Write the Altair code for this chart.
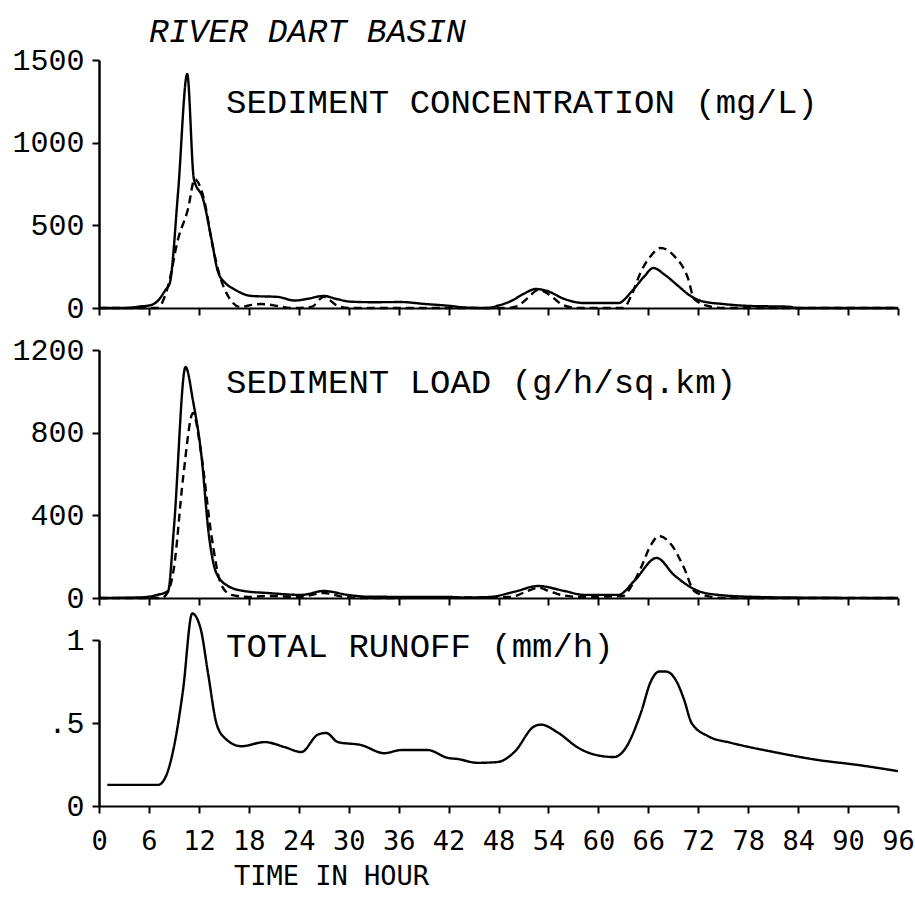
import altair as alt
import pandas as pd

# ---------------- data ----------------
# Sediment concentration (mg/L)
conc_solid_t = [0, 3, 4, 5, 6, 7, 8, 8.5, 9.5, 10.6, 11.4, 12.5, 13.5, 14.3, 15.2, 16.2, 18.3, 21.5, 23.5, 25, 27, 28.5, 30.3, 33, 36.3, 39, 42.3, 44, 46.7, 48, 49.5, 51, 52.5, 54, 55.9, 58.3, 62.4, 64, 65.5, 66.6, 68, 69.6, 71, 72.4, 75, 78.4, 82.8, 84, 96]
conc_solid_v = [0, 0, 3, 10, 15, 40, 110, 150, 700, 1415, 780, 660, 420, 218, 150, 115, 73, 67, 45, 55, 73, 55, 38, 35, 36, 25, 12, 3, 0, 15, 42, 85, 115, 100, 55, 30, 30, 100, 190, 242, 200, 133, 75, 42, 24, 12, 8, 0, 0]
conc_dash_t = [0, 7, 8.3, 9.5, 10.7, 11.5, 12.5, 13.8, 14.6, 15.5, 17, 18.5, 19.5, 21.5, 23, 25.5, 27, 28.7, 30, 49, 50.3, 51.5, 52.8, 54.3, 55.5, 56.5, 57.5, 63, 64, 65.1, 66.3, 67.5, 69.1, 70.8, 71.5, 73.2, 75, 96]
conc_dash_v = [0, 0, 133, 417, 600, 780, 680, 340, 180, 73, 6, 20, 24, 12, 0, 6, 67, 12, 0, 0, 12, 60, 110, 73, 25, 6, 0, 0, 80, 218, 315, 363, 315, 175, 55, 12, 0, 0]

# Sediment load (g/h/sq.km)
load_solid_t = [0, 5, 7, 8.3, 9, 10.4, 11.3, 12.3, 13.2, 14.1, 15.5, 17.4, 20.3, 24.3, 27, 29.9, 32.5, 42, 44, 47, 49.9, 52.8, 55.9, 58.3, 62.4, 64.3, 67, 69.1, 72, 74.4, 79, 84, 96]
load_solid_v = [0, 3, 15, 34, 339, 1118, 953, 692, 305, 121, 58, 34, 24, 15, 34, 15, 6, 5, 2, 5, 30, 58, 34, 15, 15, 82, 194, 111, 34, 15, 5, 2, 0]
load_dash_t = [0, 7.5, 8.3, 9, 10.1, 11.3, 12.3, 13.5, 14.7, 15.9, 18, 20, 24, 27, 29.5, 32, 49.5, 51, 52.8, 54, 55.5, 58, 63, 64, 65.1, 66.3, 67.3, 68.8, 70.3, 71.5, 73, 75, 96]
load_dash_v = [0, 0, 30, 145, 580, 895, 692, 305, 63, 15, 5, 10, 5, 24, 5, 0, 5, 25, 50, 35, 15, 5, 10, 60, 145, 256, 300, 256, 145, 34, 10, 0, 0]

# Total runoff (mm/h)
runoff_t = [1, 7.1, 8, 9, 10.1, 11.2, 12.2, 13.1, 14.1, 15.1, 17.1, 19.9, 22.3, 24.3, 26.3, 27.3, 28.7, 31.5, 34.3, 36.3, 39.5, 41.9, 43.1, 45.5, 47.9, 49.9, 52.3, 53.1, 55.2, 57.6, 59.5, 61.9, 63.1, 65.1, 66.3, 67.3, 68.1, 69.4, 70.3, 71.2, 73.2, 76, 81.1, 86.4, 91.2, 96]
runoff_v = [0.127, 0.127, 0.175, 0.355, 0.70, 1.16, 1.07, 0.80, 0.50, 0.41, 0.36, 0.385, 0.355, 0.325, 0.43, 0.44, 0.385, 0.367, 0.318, 0.337, 0.337, 0.29, 0.283, 0.26, 0.265, 0.325, 0.48, 0.49, 0.44, 0.35, 0.31, 0.295, 0.337, 0.56, 0.75, 0.81, 0.81, 0.75, 0.64, 0.50, 0.42, 0.38, 0.325, 0.277, 0.247, 0.21]

x_ticks = list(range(0, 97, 6))
conc_ticks = [0, 500, 1000, 1500]
load_ticks = [0, 400, 800, 1200]
runoff_ticks = [0, 0.5, 1]

main_title = "RIVER DART BASIN"
conc_title = "SEDIMENT CONCENTRATION (mg/L)"
load_title = "SEDIMENT LOAD (g/h/sq.km)"
runoff_title = "TOTAL RUNOFF (mm/h)"
x_title = "TIME IN HOUR"


def two_series(ts, vs, td, vd):
    return pd.DataFrame({
        "t": ts + td,
        "v": vs + vd,
        "series": ["solid"] * len(ts) + ["dashed"] * len(td),
    })


conc_df = two_series(conc_solid_t, conc_solid_v, conc_dash_t, conc_dash_v)
load_df = two_series(load_solid_t, load_solid_v, load_dash_t, load_dash_v)
runoff_df = pd.DataFrame({"t": runoff_t, "v": runoff_v, "series": ["solid"] * len(runoff_t)})

W = 799
LABEL_FONT = "Liberation Mono"
TITLE_FONT = "Liberation Mono"

x_hidden = alt.X("t:Q", scale=alt.Scale(domain=[0, 96], nice=False),
                 axis=alt.Axis(values=x_ticks, labels=False, title=None, tickSize=7,
                               tickWidth=2, domainWidth=2, grid=False))
x_shown = alt.X("t:Q", scale=alt.Scale(domain=[0, 96], nice=False),
                axis=alt.Axis(values=x_ticks, title=x_title, tickSize=7, tickWidth=2,
                              domainWidth=2, grid=False, labelFont="DejaVu Sans Mono",
                              labelFontSize=27, labelPadding=15, labelFontWeight="normal",
                              labelFlush=False, labelOverlap=False,
                              titleFont="DejaVu Sans Mono", titleFontSize=27,
                              titleFontWeight="normal", titleX=232, titleY=70,
                              titleAlign="center", titleBaseline="middle"))

dash_scale = alt.Scale(domain=["solid", "dashed"], range=[[1, 0], [8, 5]])


def y_axis(ticks, label_expr):
    return alt.Axis(values=ticks, title=None, tickSize=7, tickWidth=2, domainWidth=2.5,
                    grid=False, labelFont=LABEL_FONT, labelFontSize=30, labelPadding=8,
                    labelExpr=label_expr)


def label_layer(text, x, y, size=34, style="normal"):
    return alt.Chart(pd.DataFrame({"label": [text]})).mark_text(
        font=TITLE_FONT, fontSize=size, fontStyle=style, align="left",
        baseline="middle", color="black"
    ).encode(x=alt.value(x), y=alt.value(y), text="label:N")


def line_layer(df, x_enc, y_dom, ticks, label_expr="format(datum.value, 'd')"):
    return alt.Chart(df).mark_line(color="black", strokeWidth=2.4, interpolate="monotone").encode(
        x=x_enc,
        y=alt.Y("v:Q", scale=alt.Scale(domain=y_dom, nice=False, zero=True),
                axis=y_axis(ticks, label_expr)),
        strokeDash=alt.StrokeDash("series:N", scale=dash_scale, legend=None),
        detail="series:N",
    )


p1 = alt.layer(
    line_layer(conc_df, x_hidden, [0, 1500], conc_ticks),
    label_layer(conc_title, 127, 43),
    label_layer(main_title, 50, -28, size=33, style="italic"),
).properties(width=W, height=248)

p2 = alt.layer(
    line_layer(load_df, x_hidden, [0, 1200], load_ticks),
    label_layer(load_title, 127, 33),
).properties(width=W, height=248)

p3 = alt.layer(
    line_layer(runoff_df, x_shown, [0, 1], runoff_ticks,
               "datum.value == 0.5 ? '.5' : format(datum.value, 'd')"),
    label_layer(runoff_title, 127, 7),
).properties(width=W, height=166)

chart = alt.vconcat(p1, p2, p3, spacing=42, bounds="flush").properties(
    padding={"left": 11, "top": 16, "right": 0, "bottom": 5},
    background="white",
).configure_view(stroke=None).configure_axis(
    domainColor="black", tickColor="black", labelColor="black", titleColor="black"
)

chart.save("out.html", embed_options={"renderer": "svg", "actions": False})
